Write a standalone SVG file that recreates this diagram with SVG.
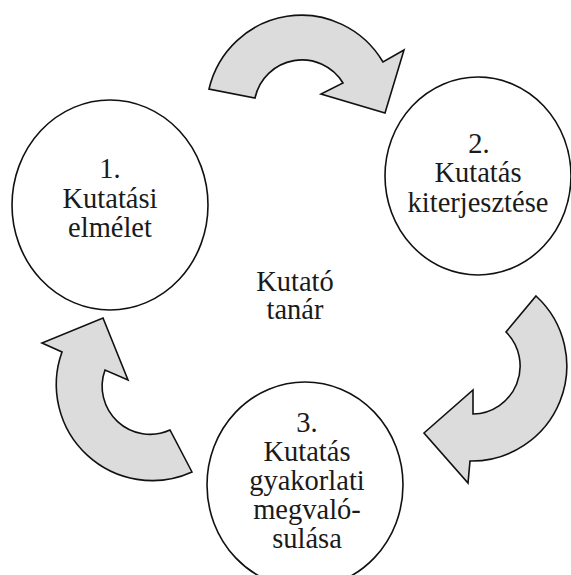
<svg xmlns="http://www.w3.org/2000/svg" width="571" height="575" viewBox="0 0 571 575">
<rect width="571" height="575" fill="#fff"/>
<g id="connectors" fill="#dcdcdc" stroke="#111" stroke-width="1.6">
<path d="M209,89 A95,96 0 0 1 383,62 L404,50 L385,113 L321,94 L343,83 A48,48 0 0 0 255,98 Z"/>
<path d="M536,296 A95,95 0 0 1 470,461 L468,483 L424,433 L473,390 L473,414 A48,48 0 0 0 506,332 Z"/>
<path d="M192,472 A96,96 0 0 1 62,352 L42,343 L103,318 L128,380 L105,370 A48,48 0 0 0 170,430 Z"/>
</g>
<g id="nodes" font-family="Liberation Serif" font-size="28.5" text-anchor="middle" fill="#1a1a1a">
<g id="node1">
<ellipse cx="110" cy="205" rx="98" ry="105" fill="#fff" stroke="#111" stroke-width="1.6"/>
<text style="font-family:'Liberation Serif','Times New Roman',serif" x="110" y="178">1.</text>
<text style="font-family:'Liberation Serif','Times New Roman',serif" x="110" y="208">Kutatási</text>
<text style="font-family:'Liberation Serif','Times New Roman',serif" x="110" y="237">elmélet</text>
</g>
<g id="node2">
<ellipse cx="478" cy="176" rx="93" ry="99" fill="#fff" stroke="#111" stroke-width="1.6"/>
<text style="font-family:'Liberation Serif','Times New Roman',serif" x="479" y="153">2.</text>
<text style="font-family:'Liberation Serif','Times New Roman',serif" x="478" y="182">Kutatás</text>
<text style="font-family:'Liberation Serif','Times New Roman',serif" x="478" y="212">kiterjesztése</text>
</g>
<g id="node3">
<ellipse cx="305" cy="485" rx="98" ry="103" fill="#fff" stroke="#111" stroke-width="1.6"/>
<text style="font-family:'Liberation Serif','Times New Roman',serif" x="307" y="432">3.</text>
<text style="font-family:'Liberation Serif','Times New Roman',serif" x="307" y="461">Kutatás</text>
<text style="font-family:'Liberation Serif','Times New Roman',serif" x="307" y="490">gyakorlati</text>
<text style="font-family:'Liberation Serif','Times New Roman',serif" x="307" y="519">megvaló-</text>
<text style="font-family:'Liberation Serif','Times New Roman',serif" x="307" y="548">sulása</text>
</g>
<g id="center">
<text style="font-family:'Liberation Serif','Times New Roman',serif" x="295" y="291">Kutató</text>
<text style="font-family:'Liberation Serif','Times New Roman',serif" x="295" y="319">tanár</text>
</g>
</g>
</svg>
